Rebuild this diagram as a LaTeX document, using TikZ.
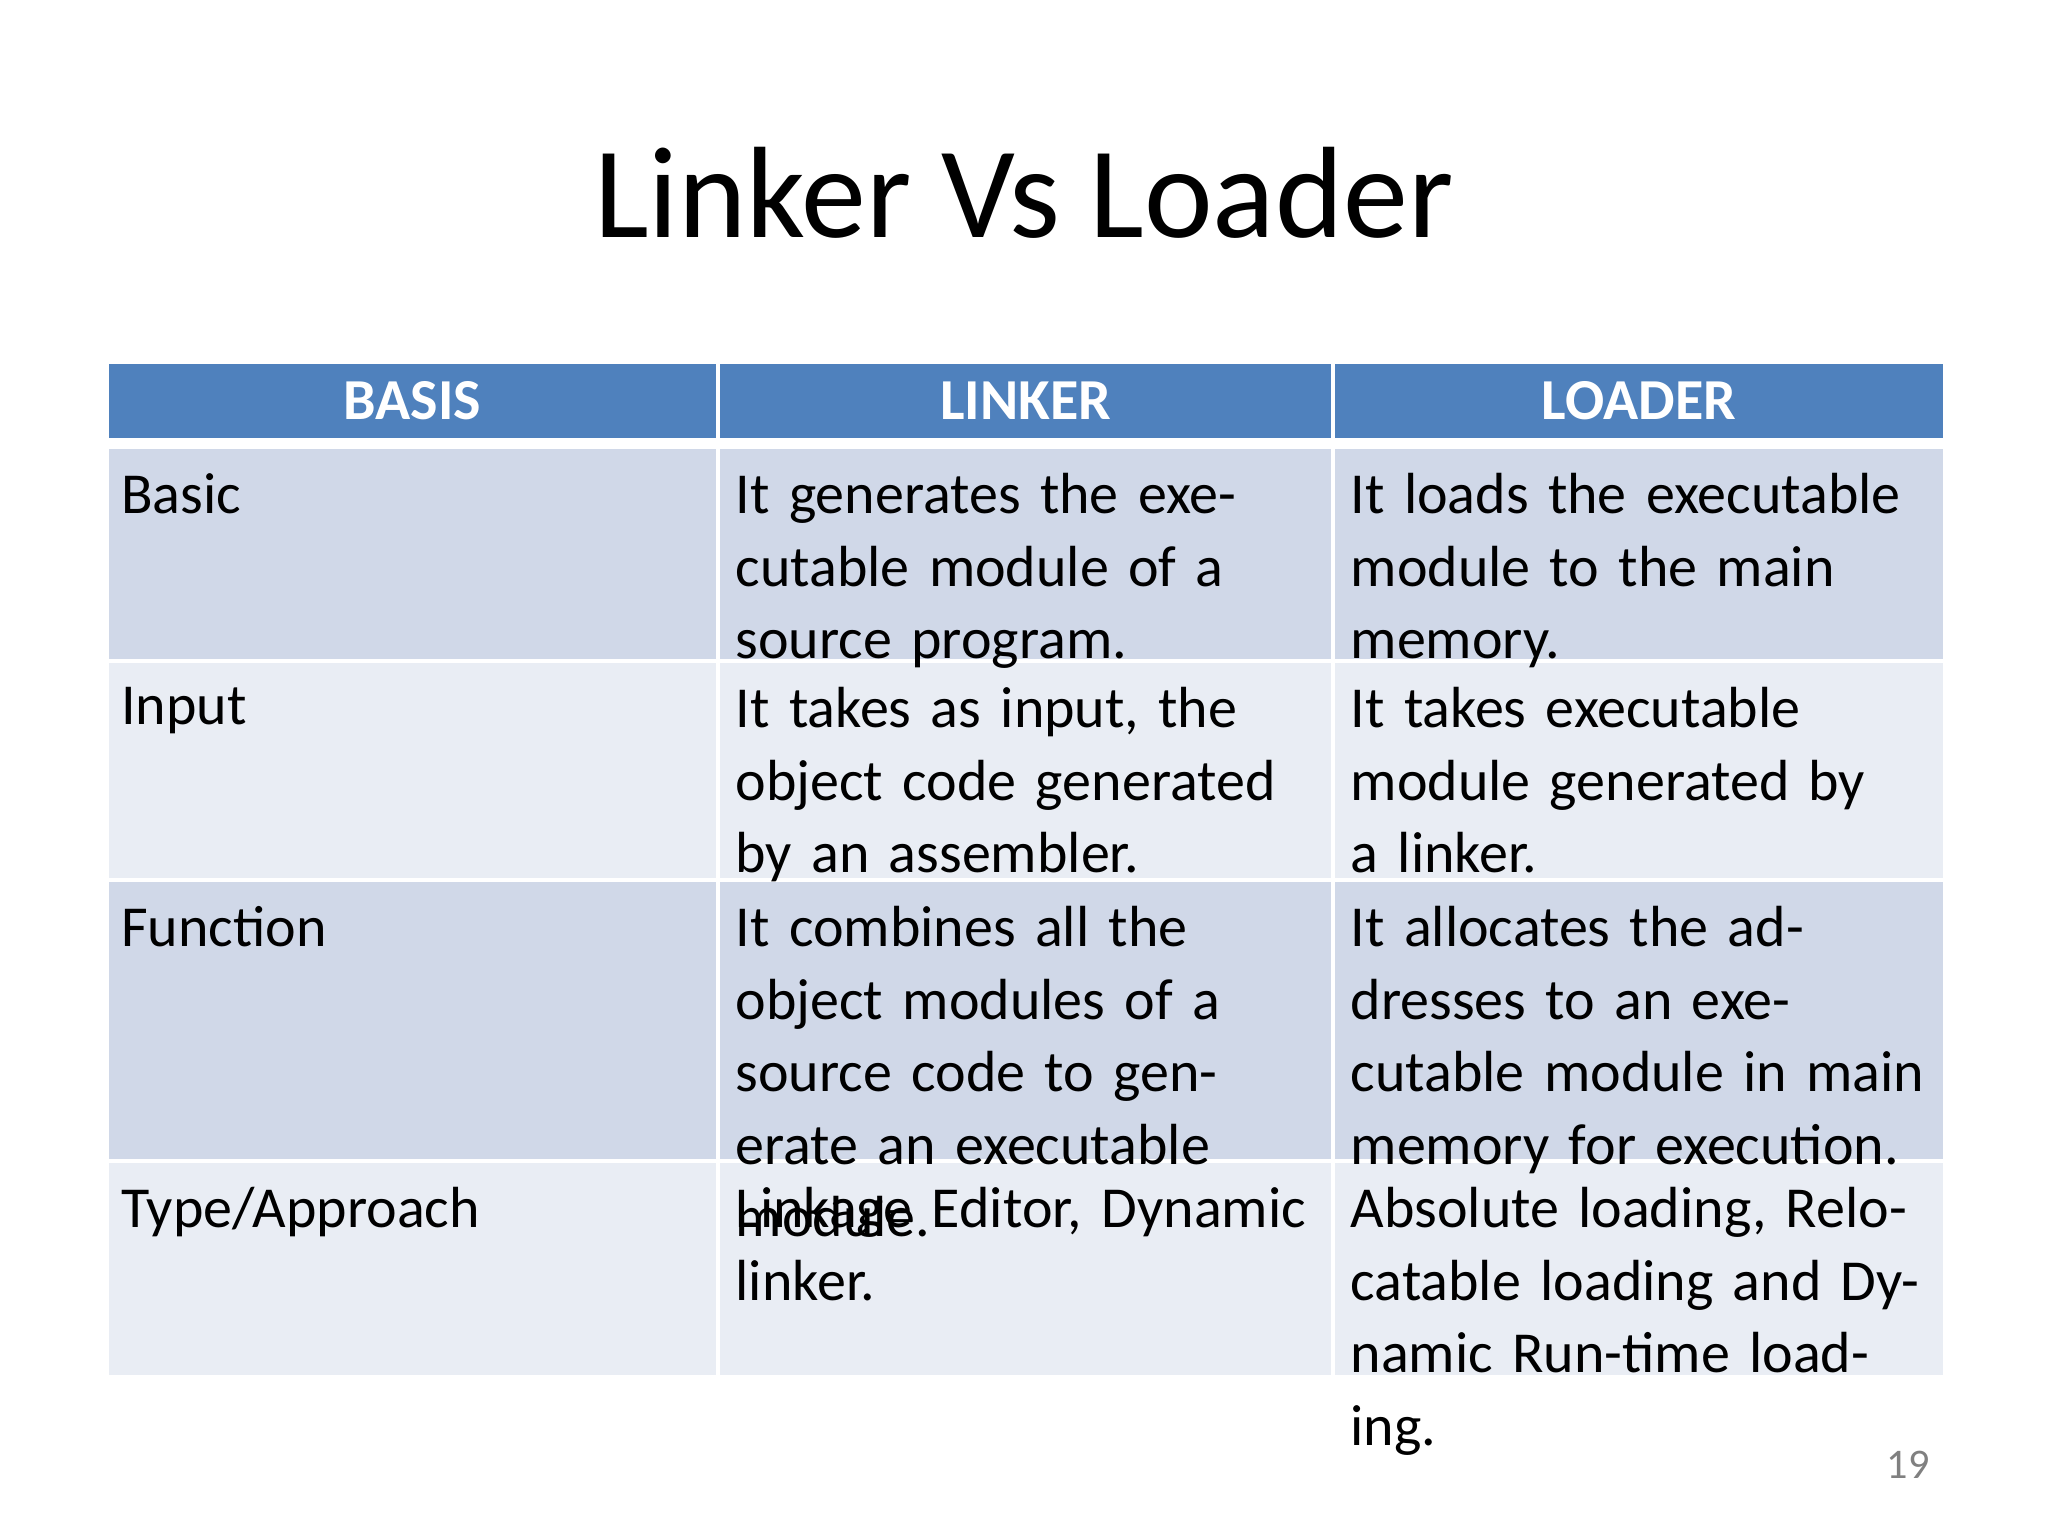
\documentclass[tikz,border=0pt]{standalone}
\usepackage{fontspec}
\setmainfont{Carlito}
\usepackage{xcolor}
\definecolor{headblue}{HTML}{4F81BD}
\definecolor{rowdark}{HTML}{D0D8E8}
\definecolor{rowlight}{HTML}{E9EDF4}
\tikzset{
  cell/.style={draw=white, line width=1.2pt, anchor=north west, inner sep=0pt},
  txt/.style={anchor=north west, inner sep=0pt, text width=5.78cm,
    font=\fontsize{16.5}{20.6}\selectfont},
  hd/.style={text=white, font=\fontsize{16.5}{20}\selectfont\bfseries}
}
\begin{document}
\begin{tikzpicture}
\useasboundingbox (0,0) rectangle (20.48,-15.36);
        \node (title) at (10.24,-1.93) {\fontsize{37}{44}\selectfont Linker Vs Loader};
        % header
        \node[cell, fill=headblue, minimum width=6.115cm, minimum height=0.78cm] (h1) at (1.045,-3.60) {};
        \node[cell, fill=headblue, minimum width=6.15cm, minimum height=0.78cm] (h2) at (7.16,-3.60) {};
        \node[cell, fill=headblue, minimum width=6.12cm, minimum height=0.78cm] (h3) at (13.31,-3.60) {};
        \node[hd] at (h1.center) {BASIS};
        \node[hd] at (h2.center) {LINKER};
        \node[hd] at (h3.center) {LOADER};
        % rows
        \foreach \rtop/\rowh/\col [count=\i] in {4.45/2.14/rowdark, 6.59/2.19/rowlight, 8.78/2.81/rowdark, 11.59/2.16/rowlight} {
            \node[cell, fill=\col, minimum width=6.115cm, minimum height=\rowh cm] (r\i a) at (1.045,-\rtop) {};
            \node[cell, fill=\col, minimum width=6.15cm, minimum height=\rowh cm] (r\i b) at (7.16,-\rtop) {};
            \node[cell, fill=\col, minimum width=6.12cm, minimum height=\rowh cm] (r\i c) at (13.31,-\rtop) {};
        }
        % texts
        \node[txt] (t1a) at ([xshift=0.16cm, yshift=-0.28cm]r1a.north west) {Basic};
        \node[txt] (t1b) at ([xshift=0.19cm, yshift=-0.28cm]r1b.north west) {It generates the executable module of a source program.};
        \node[txt] (t1c) at ([xshift=0.19cm, yshift=-0.28cm]r1c.north west) {It loads the executable module to the main memory.};
        \node[txt] (t2a) at ([xshift=0.16cm, yshift=-0.28cm]r2a.north west) {Input};
        \node[txt] (t2b) at ([xshift=0.19cm, yshift=-0.28cm]r2b.north west) {It takes as input, the object code generated by an assembler.};
        \node[txt] (t2c) at ([xshift=0.19cm, yshift=-0.28cm]r2c.north west) {It takes executable module generated by a linker.};
        \node[txt] (t3a) at ([xshift=0.16cm, yshift=-0.28cm]r3a.north west) {Function};
        \node[txt] (t3b) at ([xshift=0.19cm, yshift=-0.28cm]r3b.north west) {It combines all the object modules of a source code to generate an executable module.};
        \node[txt] (t3c) at ([xshift=0.19cm, yshift=-0.28cm]r3c.north west) {It allocates the addresses to an executable module in main memory for execution.};
        \node[txt] (t4a) at ([xshift=0.16cm, yshift=-0.28cm]r4a.north west) {Type/Approach};
        \node[txt] (t4b) at ([xshift=0.19cm, yshift=-0.28cm]r4b.north west) {Linkage Editor, Dynamic linker.};
        \node[txt] (t4c) at ([xshift=0.19cm, yshift=-0.28cm]r4c.north west) {Absolute loading, Relocatable loading and Dynamic Run-time loading.};
        \node[text=gray, font=\fontsize{12}{14}\selectfont] (pg) at (19.08,-14.65) {19};
    \end{tikzpicture}
\end{document}
